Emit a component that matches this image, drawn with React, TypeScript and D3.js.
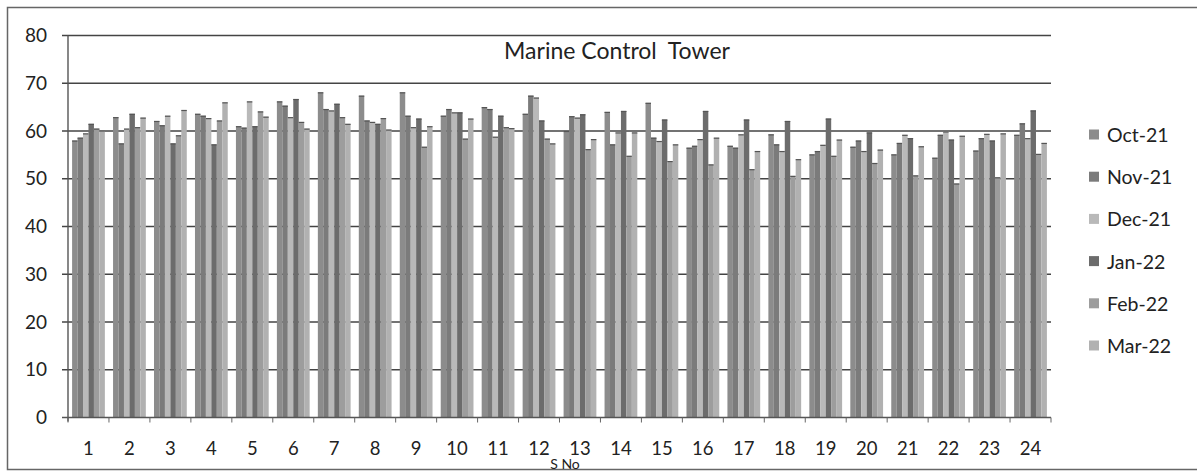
import React from "react";
import * as d3 from "d3";

const categories = ["1","2","3","4","5","6","7","8","9","10","11","12","13","14","15","16","17","18","19","20","21","22","23","24"];
const seriesNames = ["Oct-21", "Nov-21", "Dec-21", "Jan-22", "Feb-22", "Mar-22"];
const oct21 = [58, 62.9, 62.1, 63.6, 61.0, 66.2, 68.1, 67.4, 68.1, 63.2, 65.0, 63.6, 60.0, 64.0, 65.9, 56.5, 56.9, 59.3, 55.1, 56.7, 55.1, 54.4, 55.9, 59.2];
const nov21 = [58.6, 57.4, 61.2, 63.2, 60.7, 65.3, 64.6, 62.2, 63.2, 64.6, 64.6, 67.4, 63.1, 57.2, 58.6, 56.9, 56.5, 57.2, 55.8, 58.0, 57.5, 59.2, 58.5, 61.6];
const dec21 = [59.5, 60.5, 63.2, 62.7, 66.2, 62.9, 64.3, 61.9, 60.8, 63.9, 58.8, 67.0, 62.8, 59.7, 57.9, 58.3, 59.3, 55.8, 57.1, 55.8, 59.2, 59.9, 59.4, 58.5];
const jan22 = [61.5, 63.6, 57.4, 57.2, 61.0, 66.7, 65.7, 61.5, 62.6, 63.9, 63.2, 62.2, 63.5, 64.2, 62.4, 64.2, 62.4, 62.1, 62.6, 59.7, 58.5, 58.2, 58.0, 64.3];
const feb22 = [60.5, 60.8, 59.1, 62.2, 64.1, 61.9, 62.9, 62.7, 56.7, 58.4, 60.8, 58.4, 56.2, 54.8, 53.7, 53.0, 52.0, 50.6, 54.8, 53.3, 50.7, 49.0, 50.3, 55.2];
const mar22 = [60.1, 62.8, 64.4, 66.0, 63.0, 60.5, 61.5, 60.3, 61.0, 62.6, 60.6, 57.4, 58.3, 59.7, 57.2, 58.6, 55.8, 54.1, 58.2, 56.1, 56.8, 59.0, 59.5, 57.5];
const yTicks = [0, 10, 20, 30, 40, 50, 60, 70, 80];
const title = "Marine Control  Tower";
const xTitle = "S No";

const seriesValues = [oct21, nov21, dec21, jan22, feb22, mar22];
const colors = ["#8c8c8c", "#7b7b7b", "#b9b9b9", "#6c6c6c", "#9d9d9d", "#b1b1b1"];

const W = 1197, H = 472;
const plot = { left: 68, right: 1051, top: 35.5, bottom: 417.5 };
const FONT = "Lato, 'Open Sans', sans-serif";

export default function App() {
  const x0 = d3.scaleBand<string>().domain(categories).range([plot.left, plot.right]).paddingInner(0.2).paddingOuter(0.1);
  const x1 = d3.scaleBand<string>().domain(seriesNames).range([0, x0.bandwidth()]).padding(0);
  const y = d3.scaleLinear().domain([0, 80]).range([plot.bottom, plot.top]);
  const step = x0.step();
  const boundaries = d3.range(categories.length + 1).map((i) => plot.left + i * step);

  return (
    <svg width={W} height={H} style={{ position: "absolute", left: 0, top: 0, background: "#fff" }} fontFamily={FONT}>
      <rect x={0} y={0} width={W} height={H} fill="#fff" />
      <rect x={7.5} y={7.5} width={1200} height={462} fill="none" stroke="#666" strokeWidth={1.5} />
      {yTicks.filter((t) => t > 0).map((t) => (
        <line key={t} x1={plot.left - 6} x2={plot.right} y1={y(t)} y2={y(t)} stroke="#444" strokeWidth={1.5} />
      ))}
      {seriesNames.map((s, si) => (
        <g key={s}>
          {categories.map((c, ci) => {
            const v = seriesValues[si][ci];
            const bx = (x0(c) as number) + (x1(s) as number);
            return (
              <g key={c}>
                <rect x={bx} y={y(v)} width={x1.bandwidth()} height={y(0) - y(v)} fill={colors[si]} />
                <line x1={bx} x2={bx + x1.bandwidth()} y1={y(v) + 0.5} y2={y(v) + 0.5} stroke="#555" strokeWidth={1.2} />
              </g>
            );
          })}
        </g>
      ))}
      <line x1={plot.left} x2={plot.left} y1={plot.top} y2={plot.bottom + 4} stroke="#555" strokeWidth={1.4} />
      <line x1={plot.left - 6} x2={plot.right} y1={plot.bottom} y2={plot.bottom} stroke="#555" strokeWidth={1.4} />
      {yTicks.map((t) => (
        <text key={t} x={47} y={y(t)} dy="0.35em" textAnchor="end" fontSize={19} fill="#222">{t}</text>
      ))}
      {boundaries.map((bx, i) => (
        <line key={i} x1={bx} x2={bx} y1={plot.bottom} y2={plot.bottom + 5} stroke="#666" strokeWidth={1} />
      ))}
      {categories.map((c) => (
        <text key={c} x={(x0(c) as number) + x0.bandwidth() / 2} y={455} textAnchor="middle" fontSize={18.5} fill="#222">{c}</text>
      ))}
      <text x={617} y={59} textAnchor="middle" fontSize={23} fill="#222" style={{ whiteSpace: "pre" }}>{title}</text>
      <text x={565} y={469} textAnchor="middle" fontSize={14} fill="#222">{xTitle}</text>
      {seriesNames.map((s, i) => {
        const ly = 135 + i * 42.2;
        return (
          <g key={s}>
            <rect x={1089} y={ly - 5.5} width={10} height={10} fill={colors[i]} />
            <text x={1107} y={ly} dy="0.36em" fontSize={19.5} fill="#222">{s}</text>
          </g>
        );
      })}
    </svg>
  );
}
